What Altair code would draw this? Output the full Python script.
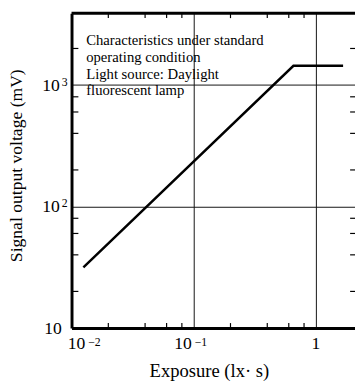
import altair as alt
import pandas as pd

# ---- data ----
exposure = [0.0125, 0.655, 1.67]          # lx·s
voltage = [31.5, 1440, 1440]              # mV

x_domain = [0.01, 2.09]
y_domain = [10, 3900]

x_grid = [0.1, 1]
y_grid = [100, 1000]

x_minor = [0.02, 0.04, 0.06, 0.08, 0.2, 0.4, 0.6, 0.8]
y_minor = [20, 40, 60, 80, 200, 400, 600, 800, 2000]

x_label_values = [0.01, 0.1, 1]
x_label_base = ["10", "10", "1"]
x_label_exp = ["\u22122", "\u22121", ""]

y_label_values = [10, 100, 1000]
y_label_base = ["10", "10", "10"]
y_label_exp = ["", "2", "3"]

annotation_lines = ["Characteristics under standard",
                    "operating condition",
                    "Light source: Daylight",
                    "fluorescent lamp"]

x_title = "Exposure  (lx\u00b7 s)"
y_title = "Signal output voltage  (mV)"

# ---- layout ----
W, H = 290, 322
FONT = "Liberation Serif"

xs = alt.Scale(type="log", domain=x_domain, nice=False)
ys = alt.Scale(type="log", domain=y_domain, nice=False)

line_df = pd.DataFrame({"x": exposure, "y": voltage})

base = alt.Chart(line_df).mark_line(color="black", strokeWidth=2.5).encode(
    x=alt.X("x:Q", scale=xs,
            axis=alt.Axis(values=x_grid, grid=True, gridColor="#111", gridWidth=1,
                          gridOpacity=1, ticks=False, labels=False,
                          domain=True, domainColor="black", domainWidth=3,
                          title=x_title, titleFont=FONT, titleFontSize=19,
                          titleFontWeight="normal", titleColor="black",
                          titleX=140.5, titleY=50, titleAlign="center",
                          titleBaseline="alphabetic")),
    y=alt.Y("y:Q", scale=ys,
            axis=alt.Axis(values=y_grid, grid=True, gridColor="#111", gridWidth=1,
                          gridOpacity=1, ticks=False, labels=False,
                          domain=True, domainColor="black", domainWidth=3,
                          title=y_title, titleFont=FONT, titleFontSize=18,
                          titleFontWeight="normal", titleColor="black",
                          titleAngle=270, titleX=-51, titleY=155.5,
                          titleAlign="center", titleBaseline="alphabetic")),
)

top_frame = alt.Chart(pd.DataFrame({"a": [0]})).mark_rule(
    color="black", strokeWidth=3).encode(
    x=alt.value(0), x2=alt.value(W), y=alt.value(0))

xm = pd.DataFrame({"x": x_minor})
ym = pd.DataFrame({"y": y_minor})

x_ticks_bottom = alt.Chart(xm).mark_rule(color="black", strokeWidth=1.2).encode(
    x=alt.X("x:Q", scale=xs), y=alt.value(H - 5), y2=alt.value(H))
x_ticks_top = alt.Chart(xm).mark_rule(color="black", strokeWidth=1.2).encode(
    x=alt.X("x:Q", scale=xs), y=alt.value(0), y2=alt.value(5))
y_ticks_left = alt.Chart(ym).mark_rule(color="black", strokeWidth=1.2).encode(
    y=alt.Y("y:Q", scale=ys), x=alt.value(0), x2=alt.value(7))
y_ticks_right = alt.Chart(ym).mark_rule(color="black", strokeWidth=1.2).encode(
    y=alt.Y("y:Q", scale=ys), x=alt.value(W - 5), x2=alt.value(W))

xl = pd.DataFrame({"x": x_label_values, "base": x_label_base, "exp": x_label_exp})
yl = pd.DataFrame({"y": y_label_values, "base": y_label_base, "exp": y_label_exp})

first = x_domain[0]
txt = dict(font=FONT, color="black")

x_base_norm = alt.Chart(xl).transform_filter(
    (alt.datum.exp != "") & (alt.datum.x > first)).mark_text(
    align="right", baseline="alphabetic", dx=-2, fontSize=18, **txt).encode(
    x=alt.X("x:Q", scale=xs), y=alt.value(H + 22), text="base:N")
x_exp_norm = alt.Chart(xl).transform_filter(
    (alt.datum.exp != "") & (alt.datum.x > first)).mark_text(
    align="left", baseline="alphabetic", dx=1, fontSize=12, **txt).encode(
    x=alt.X("x:Q", scale=xs), y=alt.value(H + 18), text="exp:N")
x_base_flush = alt.Chart(xl).transform_filter(alt.datum.x <= first).mark_text(
    align="right", baseline="alphabetic", dx=14, fontSize=18, **txt).encode(
    x=alt.X("x:Q", scale=xs), y=alt.value(H + 22), text="base:N")
x_exp_flush = alt.Chart(xl).transform_filter(alt.datum.x <= first).mark_text(
    align="left", baseline="alphabetic", dx=17, fontSize=12, **txt).encode(
    x=alt.X("x:Q", scale=xs), y=alt.value(H + 18), text="exp:N")
x_base_plain = alt.Chart(xl).transform_filter(alt.datum.exp == "").mark_text(
    align="center", baseline="alphabetic", fontSize=18, **txt).encode(
    x=alt.X("x:Q", scale=xs), y=alt.value(H + 22), text="base:N")

y_base_exp = alt.Chart(yl).transform_filter(alt.datum.exp != "").mark_text(
    align="right", baseline="middle", dy=1, fontSize=18, **txt).encode(
    y=alt.Y("y:Q", scale=ys), x=alt.value(-12), text="base:N")
y_exp = alt.Chart(yl).transform_filter(alt.datum.exp != "").mark_text(
    align="left", baseline="middle", dy=-3, fontSize=12, **txt).encode(
    y=alt.Y("y:Q", scale=ys), x=alt.value(-10), text="exp:N")
y_base_plain = alt.Chart(yl).transform_filter(alt.datum.exp == "").mark_text(
    align="right", baseline="middle", dy=1, fontSize=18, **txt).encode(
    y=alt.Y("y:Q", scale=ys), x=alt.value(-10), text="base:N")

note = alt.Chart(pd.DataFrame({"a": [0]})).mark_text(
    text=annotation_lines, align="left", baseline="alphabetic",
    fontSize=15, lineHeight=17, **txt).encode(
    x=alt.value(15), y=alt.value(33))

chart = alt.layer(
    base, top_frame, x_ticks_bottom, x_ticks_top, y_ticks_left, y_ticks_right,
    x_base_norm, x_exp_norm, x_base_flush, x_exp_flush, x_base_plain,
    y_base_exp, y_exp, y_base_plain, note
).properties(
    width=W, height=H,
    autosize=alt.AutoSizeParams(type="none"),
    padding={"left": 65, "top": 1, "right": 0, "bottom": 55},
    background="white",
).configure_view(stroke=None)

chart.save("out.html", embed_options={"renderer": "svg", "actions": False})
